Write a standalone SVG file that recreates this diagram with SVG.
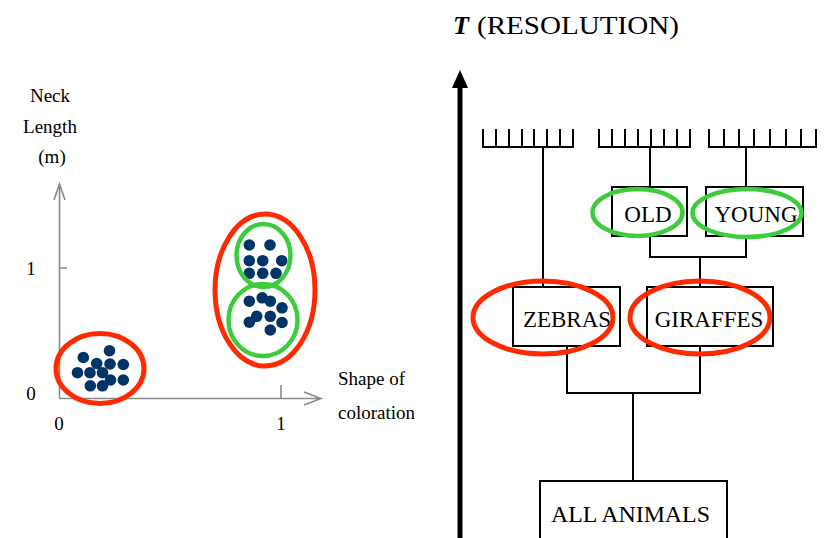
<svg xmlns="http://www.w3.org/2000/svg" width="827" height="538" viewBox="0 0 827 538">
<style>
.t{font-family:"Liberation Serif","Times New Roman",serif;fill:#000}
.ax{stroke:#8a8a8a;stroke-width:1.6;fill:none}
.dot{fill:#003366}
.red{fill:none;stroke:#ff2a00;stroke-width:5}
.grn{fill:none;stroke:#3ccc3c;stroke-width:4.5}
.ln{stroke:#000;stroke-width:2;fill:none;stroke-linecap:square}
.box{fill:#fff;stroke:#000;stroke-width:2}
</style>
<rect width="827" height="538" fill="#fff"/>
<g id="chart">
<path class="ax" d="M59.5,398.5 V184 M59.5,398.5 H321 M54,200 L59.5,184 L65,200 M304,392 L321,398.5 L304,405 M59.5,268 H67 M281,398.5 V385"/>
<text class="t" x="50" y="102" font-size="19" text-anchor="middle">Neck</text>
<text class="t" x="50" y="133" font-size="19" text-anchor="middle">Length</text>
<text class="t" x="52" y="163" font-size="19" text-anchor="middle">(m)</text>
<text class="t" x="31" y="275" font-size="19" text-anchor="middle">1</text>
<text class="t" x="31" y="400" font-size="19" text-anchor="middle">0</text>
<text class="t" x="59" y="430" font-size="19" text-anchor="middle">0</text>
<text class="t" x="281" y="430" font-size="19" text-anchor="middle">1</text>
<text class="t" x="338" y="385" font-size="19">Shape of</text>
<text class="t" x="338" y="419" font-size="19">coloration</text>
<g id="dots">
<circle class="dot" cx="83.3" cy="357.5" r="5.8"/><circle class="dot" cx="109.5" cy="350.7" r="5.8"/>
<circle class="dot" cx="96.7" cy="363.5" r="5.8"/><circle class="dot" cx="110" cy="364" r="5.8"/>
<circle class="dot" cx="123.3" cy="364.5" r="5.8"/><circle class="dot" cx="77.5" cy="372.7" r="5.8"/>
<circle class="dot" cx="90" cy="372.7" r="5.8"/><circle class="dot" cx="102.5" cy="372.7" r="5.8"/>
<circle class="dot" cx="110.5" cy="380" r="5.8"/><circle class="dot" cx="123.3" cy="380" r="5.8"/>
<circle class="dot" cx="90.3" cy="385.8" r="5.8"/><circle class="dot" cx="102.5" cy="385.8" r="5.8"/>
<circle class="dot" cx="249.3" cy="245" r="5.8"/><circle class="dot" cx="270" cy="245" r="5.8"/>
<circle class="dot" cx="249.3" cy="260.7" r="5.8"/><circle class="dot" cx="262.7" cy="260.7" r="5.8"/>
<circle class="dot" cx="281.7" cy="260.7" r="5.8"/><circle class="dot" cx="249.3" cy="273.3" r="5.8"/>
<circle class="dot" cx="262.7" cy="273.3" r="5.8"/><circle class="dot" cx="276" cy="273.3" r="5.8"/>
<circle class="dot" cx="249.3" cy="301.2" r="5.8"/><circle class="dot" cx="262.2" cy="297.8" r="5.8"/>
<circle class="dot" cx="270.3" cy="301.2" r="5.8"/><circle class="dot" cx="282" cy="307.8" r="5.8"/>
<circle class="dot" cx="256.7" cy="316.3" r="5.8"/><circle class="dot" cx="270.3" cy="316.3" r="5.8"/>
<circle class="dot" cx="249.3" cy="322.2" r="5.8"/><circle class="dot" cx="282" cy="322.5" r="5.8"/>
<circle class="dot" cx="270.3" cy="330" r="5.8"/>
</g>
<ellipse class="red" cx="100" cy="368.5" rx="44" ry="35"/>
<ellipse class="red" cx="265" cy="290" rx="50" ry="76"/>
<ellipse class="grn" cx="263.5" cy="255.5" rx="27" ry="31.5"/>
<ellipse class="grn" cx="263" cy="320" rx="34.5" ry="36"/>
</g>
<g id="axis-T">
<text class="t" x="453" y="34" font-size="26" font-weight="bold" font-style="italic">T</text>
<text class="t" x="477" y="34" font-size="26" textLength="202" lengthAdjust="spacingAndGlyphs">(RESOLUTION)</text>
<rect x="457.5" y="84" width="5" height="454" fill="#000"/>
<polygon points="460,70 452,88 468,88" fill="#000"/>
</g>
<g id="connectors">
<path class="ln" d="M483,130 V147 H573 V130 M496,130 V147 M509,130 V147 M522,130 V147 M534,130 V147 M547,130 V147 M560,130 V147 M543,147 V287"/>
<path class="ln" d="M599,130 V147 H690 V130 M612,130 V147 M625,130 V147 M638,130 V147 M651,130 V147 M664,130 V147 M677,130 V147 M650,147 V187"/>
<path class="ln" d="M709,130 V147 H816 V130 M724,130 V147 M739,130 V147 M754,130 V147 M770,130 V147 M786,130 V147 M801,130 V147 M746,147 V187"/>
<path class="ln" d="M650,236 V257 H746 V236 M700,257 V287"/>
<path class="ln" d="M567,346 V393 H700 V346 M633,393 V481"/>
</g>
<g id="node-old"><rect class="box" x="612" y="187" width="75" height="49"/><text class="t" x="648" y="222" font-size="23" text-anchor="middle">OLD</text></g>
<g id="node-young"><rect class="box" x="706" y="187" width="97" height="49"/><text class="t" x="756" y="222" font-size="23" text-anchor="middle">YOUNG</text></g>
<g id="node-zebras"><rect class="box" x="513" y="287" width="107" height="59"/><text class="t" x="567" y="327" font-size="23" text-anchor="middle">ZEBRAS</text></g>
<g id="node-giraffes"><rect class="box" x="647" y="287" width="126" height="59"/><text class="t" x="709" y="327" font-size="23" text-anchor="middle">GIRAFFES</text></g>
<g id="node-all"><rect class="box" x="540" y="481" width="187" height="70"/><text class="t" x="551" y="522" font-size="23" textLength="159" lengthAdjust="spacingAndGlyphs">ALL ANIMALS</text></g>
<g id="highlights">
<ellipse class="grn" cx="637.5" cy="212.5" rx="45" ry="23.5"/>
<ellipse class="grn" cx="747" cy="213" rx="54.5" ry="24"/>
<ellipse class="red" cx="543" cy="317.5" rx="70" ry="36.5"/>
<ellipse class="red" cx="700" cy="317.5" rx="70" ry="36.5"/>
</g>
</svg>
